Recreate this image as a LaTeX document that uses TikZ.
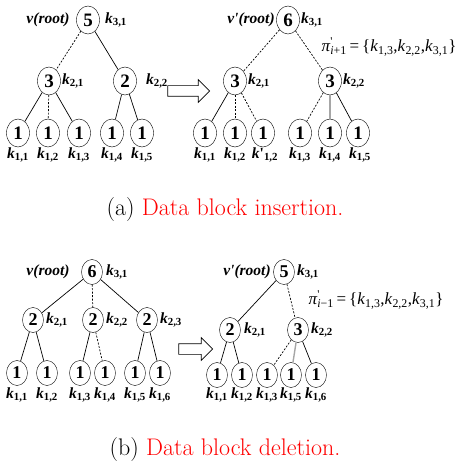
\documentclass[tikz,border=0pt]{standalone}
\usepackage{fontspec}
\newfontfamily\arbre{Liberation Serif}
\usetikzlibrary{shapes.geometric,shapes.arrows}
% Etiquettes des noeuds
\newcommand{\cle}[1]{\textbf{\textit{k}}\textsubscript{\textbf{#1}}}
\newcommand{\clep}[1]{\textbf{\textit{k}'}\textsubscript{\textbf{#1}}}
\newcommand{\racine}[1]{\textbf{\textit{v#1(root)}}}
\newcommand{\chemin}[1]{\textit{π}\makebox[0pt][l]{\textsuperscript{'}}\textsubscript{\textit{i}#1}\,=\,\{\textit{k}\textsubscript{1,3},\textit{k}\textsubscript{2,2},\textit{k}\textsubscript{3,1}\}}
\begin{document}
\begin{tikzpicture}[x=1pt,y=-1pt]
			% Styles
			\tikzstyle{noeud}=[draw,ellipse,inner sep=0pt,minimum width=23pt,minimum height=28pt,font=\arbre\fontsize{19}{19}\selectfont\bfseries]
			\tikzstyle{petit}=[noeud,minimum width=21pt,minimum height=25pt,font=\arbre\fontsize{18}{18}\selectfont\bfseries]
			\tikzstyle{etiq}=[inner sep=0pt,font=\arbre\fontsize{15.5}{15.5}\selectfont]
			\tikzstyle{ensemble}=[inner sep=0pt,font=\arbre\fontsize{17}{17}\selectfont]
			\tikzstyle{arc}=[line width=0.7pt]
			\tikzstyle{pointille}=[arc,dash pattern=on 2pt off 1.5pt]
			\tikzstyle{gris}=[line width=1.4pt,gray!70]
			\tikzstyle{bloc}=[draw,single arrow,line width=0.7pt,inner xsep=0pt,inner ysep=5pt,single arrow head extend=6pt,minimum height=42pt]
			\tikzstyle{legende}=[font=\fontsize{24}{24}\selectfont]
			% Niveaux
			\def\NiveauA{20}
			\def\NiveauB{81}
			\def\NiveauC{133}
			\def\NiveauD{155}
			\useasboundingbox (0,0) rectangle (456,462);
			% (a) Arbre avant insertion
			\node[etiq] (va) at (48,\NiveauA) {\racine{}};
			\node[noeud] (a) at (88,\NiveauA) {5};
			\node[etiq] (ka) at (116,\NiveauA) {\cle{3,1}};
			\node[noeud] (aa) at (49,\NiveauB) {3};
			\node[etiq] (kaa) at (73,\NiveauB) {\cle{2,1}};
			\node[noeud] (ab) at (125,\NiveauB) {2};
			\node[etiq] (kab) at (157,\NiveauB) {\cle{2,2}};
			\foreach \x/\n/\k in {18/1/1,48/2/2,79/3/3,112/4/4,142/5/5}{
				\node[noeud] (af\n) at (\x,\NiveauC) {1};
				\node[etiq] (kaf\n) at (\x,\NiveauD) {\cle{1,\k}};
			}
			\draw[pointille] (a)--(aa);
			\draw[arc] (a)--(ab);
			\draw[arc] (aa)--(af1);
			\draw[pointille] (aa)--(af2);
			\draw[arc] (aa)--(af3);
			\draw[arc] (ab)--(af4);
			\draw[arc] (ab)--(af5);
			\node[bloc] (fa) at (186,91) {};
			% (a) Arbre apres insertion
			\node[etiq] (vb) at (251,\NiveauA) {\racine{'}};
			\node[noeud] (b) at (288,\NiveauA) {6};
			\node[etiq] (kb) at (312,\NiveauA) {\cle{3,1}};
			\node[ensemble] (pa) at (389,47) {\chemin{+1}};
			\node[noeud] (ba) at (235,\NiveauB) {3};
			\node[etiq] (kba) at (259,\NiveauB) {\cle{2,1}};
			\node[noeud] (bb) at (330,\NiveauB) {3};
			\node[etiq] (kbb) at (354,\NiveauB) {\cle{2,2}};
			\foreach \x/\n in {205/1,235/2,263/3,300/4,330/5,358/6}{
				\node[noeud] (bf\n) at (\x,\NiveauC) {1};
			}
			\node[etiq] (kbf1) at (205,\NiveauD) {\cle{1,1}};
			\node[etiq] (kbf2) at (235,\NiveauD) {\cle{1,2}};
			\node[etiq] (kbf3) at (265,\NiveauD) {\clep{1,2}};
			\node[etiq] (kbf4) at (300,\NiveauD) {\cle{1,3}};
			\node[etiq] (kbf5) at (330,\NiveauD) {\cle{1,4}};
			\node[etiq] (kbf6) at (360,\NiveauD) {\cle{1,5}};
			\draw[pointille] (b)--(ba);
			\draw[pointille] (b)--(bb);
			\draw[arc] (ba)--(bf1);
			\draw[pointille] (ba)--(bf2);
			\draw[pointille] (ba)--(bf3);
			\draw[pointille] (bb)--(bf4);
			\draw[gris] (bb)--(bf5);
			\draw[arc] (bb)--(bf6);
			\node[legende] (la) at (225,210) {(a) \textcolor{red}{Data block insertion.}};
			% (b) Arbre avant suppression
			\node[etiq] (vc) at (48,272) {\racine{}};
			\node[petit] (c) at (92,272) {6};
			\node[etiq] (kc) at (117,272) {\cle{3,1}};
			\node[petit] (ca) at (33,320) {2};
			\node[etiq] (kca) at (57,320) {\cle{2,1}};
			\node[petit] (cb) at (93,320) {2};
			\node[etiq] (kcb) at (117,320) {\cle{2,2}};
			\node[petit] (cc) at (147,320) {2};
			\node[etiq] (kcc) at (171,320) {\cle{2,3}};
			\foreach \x/\n in {17/1,47/2,80/3,105/4,135/5,160/6}{
				\node[petit] (cf\n) at (\x,373) {1};
				\node[etiq] (kcf\n) at (\x,395) {\cle{1,\n}};
			}
			\draw[arc] (c)--(ca);
			\draw[pointille] (c)--(cb);
			\draw[arc] (c)--(cc);
			\draw[arc] (ca)--(cf1);
			\draw[arc] (ca)--(cf2);
			\draw[arc] (cb)--(cf3);
			\draw[pointille] (cb)--(cf4);
			\draw[arc] (cc)--(cf5);
			\draw[arc] (cc)--(cf6);
			\node[bloc,minimum height=34pt] (fb) at (193,349) {};
			% (b) Arbre apres suppression
			\node[etiq] (vd) at (247,272) {\racine{'}};
			\node[petit] (d) at (284,272) {5};
			\node[etiq] (kd) at (308,272) {\cle{3,1}};
			\node[ensemble] (pb) at (376,300) {\chemin{−1}};
			\node[petit] (da) at (230,330) {2};
			\node[etiq] (kda) at (255,330) {\cle{2,1}};
			\node[petit] (db) at (298,330) {3};
			\node[etiq] (kdb) at (322,330) {\cle{2,2}};
			\foreach \x/\n/\k in {217/1/1,242/2/2,267/3/3,291/4/5,316/5/6}{
				\node[petit] (df\n) at (\x,375) {1};
				\node[etiq] (kdf\n) at (\x,395) {\cle{1,\k}};
			}
			\draw[arc] (d)--(da);
			\draw[pointille] (d)--(db);
			\draw[arc] (da)--(df1);
			\draw[arc] (da)--(df2);
			\draw[pointille] (db)--(df3);
			\draw[gris] (db)--(df4);
			\draw[arc] (db)--(df5);
			\node[legende] (lb) at (225,450) {(b) \textcolor{red}{Data block deletion.}};
		\end{tikzpicture}
\end{document}
